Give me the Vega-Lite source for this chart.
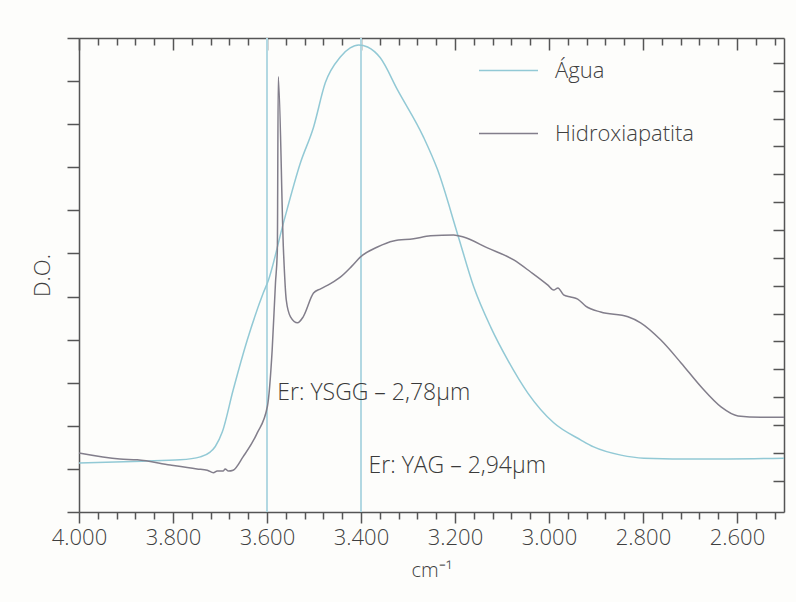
{
  "$schema": "https://vega.github.io/schema/vega-lite/v6.json",
  "width": 705,
  "height": 474,
  "autosize": {"type": "none"},
  "padding": {"left": 79, "top": 38, "right": 12, "bottom": 90},
  "background": "#fdfdfb",
  "config": {
    "view": {"stroke": null},
    "font": "Open Sans",
    "axis": {"domainColor": "#555555", "tickColor": "#555555", "labelColor": "#3f3f3f", "titleColor": "#3f3f3f", "labelFont": "Open Sans", "titleFont": "Open Sans", "titleFontWeight": 300, "labelFontWeight": 300, "grid": false, "domainWidth": 1.5, "tickWidth": 1.5},
    "legend": {"labelFont": "Open Sans", "labelFontWeight": 300}
  },
  "datasets": {
    "lasers": [{"wn": 3600}, {"wn": 3400}],
    "notes": [
      {"wn": 3578, "od": 2.76, "label": "Er: YSGG – 2,78μm"},
      {"wn": 3384, "od": 1.07, "label": "Er: YAG – 2,94μm"}
    ],
    "spectra": [
      {"s": "Água", "wn": 4000, "od": 1.14},
      {"s": "Água", "wn": 3866, "od": 1.18},
      {"s": "Água", "wn": 3785, "od": 1.21},
      {"s": "Água", "wn": 3742, "od": 1.28},
      {"s": "Água", "wn": 3721, "od": 1.39},
      {"s": "Água", "wn": 3710, "od": 1.52},
      {"s": "Água", "wn": 3695, "od": 1.86},
      {"s": "Água", "wn": 3672, "od": 2.83},
      {"s": "Água", "wn": 3642, "od": 3.99},
      {"s": "Água", "wn": 3608, "od": 5.08},
      {"s": "Água", "wn": 3597, "od": 5.38},
      {"s": "Água", "wn": 3565, "od": 6.71},
      {"s": "Água", "wn": 3529, "od": 8.10},
      {"s": "Água", "wn": 3501, "od": 8.93},
      {"s": "Água", "wn": 3476, "od": 9.96},
      {"s": "Água", "wn": 3444, "od": 10.56},
      {"s": "Água", "wn": 3423, "od": 10.77},
      {"s": "Água", "wn": 3405, "od": 10.84},
      {"s": "Água", "wn": 3386, "od": 10.79},
      {"s": "Água", "wn": 3359, "od": 10.54},
      {"s": "Água", "wn": 3322, "od": 9.79},
      {"s": "Água", "wn": 3267, "od": 8.70},
      {"s": "Água", "wn": 3237, "od": 7.94},
      {"s": "Água", "wn": 3194, "od": 6.43},
      {"s": "Água", "wn": 3160, "od": 5.22},
      {"s": "Água", "wn": 3124, "od": 4.29},
      {"s": "Água", "wn": 3088, "od": 3.53},
      {"s": "Água", "wn": 3045, "od": 2.76},
      {"s": "Água", "wn": 2990, "od": 2.07},
      {"s": "Água", "wn": 2932, "od": 1.67},
      {"s": "Água", "wn": 2905, "od": 1.51},
      {"s": "Água", "wn": 2847, "od": 1.32},
      {"s": "Água", "wn": 2798, "od": 1.25},
      {"s": "Água", "wn": 2677, "od": 1.23},
      {"s": "Água", "wn": 2500, "od": 1.25},
      {"s": "Hidroxiapatita", "wn": 4000, "od": 1.37},
      {"s": "Hidroxiapatita", "wn": 3913, "od": 1.23},
      {"s": "Hidroxiapatita", "wn": 3876, "od": 1.21},
      {"s": "Hidroxiapatita", "wn": 3806, "od": 1.09},
      {"s": "Hidroxiapatita", "wn": 3749, "od": 1.00},
      {"s": "Hidroxiapatita", "wn": 3727, "od": 0.97},
      {"s": "Hidroxiapatita", "wn": 3714, "od": 0.91},
      {"s": "Hidroxiapatita", "wn": 3706, "od": 0.95},
      {"s": "Hidroxiapatita", "wn": 3693, "od": 0.95},
      {"s": "Hidroxiapatita", "wn": 3689, "od": 1.00},
      {"s": "Hidroxiapatita", "wn": 3682, "od": 0.95},
      {"s": "Hidroxiapatita", "wn": 3672, "od": 0.97},
      {"s": "Hidroxiapatita", "wn": 3651, "od": 1.28},
      {"s": "Hidroxiapatita", "wn": 3621, "od": 1.83},
      {"s": "Hidroxiapatita", "wn": 3599, "od": 2.46},
      {"s": "Hidroxiapatita", "wn": 3589, "od": 3.76},
      {"s": "Hidroxiapatita", "wn": 3582, "od": 5.31},
      {"s": "Hidroxiapatita", "wn": 3578, "od": 6.08},
      {"s": "Hidroxiapatita", "wn": 3576, "od": 10.10},
      {"s": "Hidroxiapatita", "wn": 3565, "od": 6.08},
      {"s": "Hidroxiapatita", "wn": 3559, "od": 4.92},
      {"s": "Hidroxiapatita", "wn": 3550, "od": 4.53},
      {"s": "Hidroxiapatita", "wn": 3535, "od": 4.39},
      {"s": "Hidroxiapatita", "wn": 3523, "od": 4.53},
      {"s": "Hidroxiapatita", "wn": 3501, "od": 5.08},
      {"s": "Hidroxiapatita", "wn": 3486, "od": 5.18},
      {"s": "Hidroxiapatita", "wn": 3465, "od": 5.30},
      {"s": "Hidroxiapatita", "wn": 3444, "od": 5.45},
      {"s": "Hidroxiapatita", "wn": 3420, "od": 5.70},
      {"s": "Hidroxiapatita", "wn": 3401, "od": 5.92},
      {"s": "Hidroxiapatita", "wn": 3365, "od": 6.15},
      {"s": "Hidroxiapatita", "wn": 3331, "od": 6.29},
      {"s": "Hidroxiapatita", "wn": 3288, "od": 6.34},
      {"s": "Hidroxiapatita", "wn": 3252, "od": 6.41},
      {"s": "Hidroxiapatita", "wn": 3203, "od": 6.43},
      {"s": "Hidroxiapatita", "wn": 3182, "od": 6.38},
      {"s": "Hidroxiapatita", "wn": 3131, "od": 6.13},
      {"s": "Hidroxiapatita", "wn": 3075, "od": 5.85},
      {"s": "Hidroxiapatita", "wn": 3039, "od": 5.57},
      {"s": "Hidroxiapatita", "wn": 3003, "od": 5.27},
      {"s": "Hidroxiapatita", "wn": 2990, "od": 5.15},
      {"s": "Hidroxiapatita", "wn": 2981, "od": 5.20},
      {"s": "Hidroxiapatita", "wn": 2969, "od": 5.04},
      {"s": "Hidroxiapatita", "wn": 2954, "od": 4.99},
      {"s": "Hidroxiapatita", "wn": 2939, "od": 4.94},
      {"s": "Hidroxiapatita", "wn": 2922, "od": 4.78},
      {"s": "Hidroxiapatita", "wn": 2890, "od": 4.64},
      {"s": "Hidroxiapatita", "wn": 2832, "od": 4.53},
      {"s": "Hidroxiapatita", "wn": 2805, "od": 4.39},
      {"s": "Hidroxiapatita", "wn": 2762, "od": 3.99},
      {"s": "Hidroxiapatita", "wn": 2719, "od": 3.46},
      {"s": "Hidroxiapatita", "wn": 2676, "od": 2.90},
      {"s": "Hidroxiapatita", "wn": 2634, "od": 2.44},
      {"s": "Hidroxiapatita", "wn": 2598, "od": 2.23},
      {"s": "Hidroxiapatita", "wn": 2549, "od": 2.20},
      {"s": "Hidroxiapatita", "wn": 2500, "od": 2.20}
    ]
  },
  "resolve": {"axis": {"x": "independent", "y": "independent"}},
  "layer": [
    {
      "data": {"name": "lasers"},
      "mark": {"type": "rule", "color": "#b2d8e2", "strokeWidth": 2},
      "encoding": {
        "x": {
          "field": "wn", "type": "quantitative",
          "scale": {"domain": [4000, 2500], "nice": false, "zero": false},
          "axis": {
            "orient": "top", "title": null, "labels": false,
            "values": [4000,3960,3920,3880,3840,3800,3760,3720,3680,3640,3600,3560,3520,3480,3440,3400,3360,3320,3280,3240,3200,3160,3120,3080,3040,3000,2960,2920,2880,2840,2800,2760,2720,2680,2640,2600,2560,2520],
            "tickSize": {"condition": {"test": "datum.value % 200 === 0", "value": -12}, "value": -7}
          }
        }
      }
    },
    {
      "data": {"name": "spectra"},
      "mark": {"type": "line", "strokeWidth": 1.5, "interpolate": "monotone"},
      "encoding": {
        "x": {
          "field": "wn", "type": "quantitative",
          "scale": {"domain": [4000, 2500], "nice": false, "zero": false},
          "axis": {
            "orient": "bottom", "title": "cm⁻¹", "titleFontSize": 20, "titlePadding": 12,
            "labelFontSize": 22, "labelPadding": 4, "labelOverlap": false, "labelFlush": false, "labelBound": false,
            "values": [4000,3960,3920,3880,3840,3800,3760,3720,3680,3640,3600,3560,3520,3480,3440,3400,3360,3320,3280,3240,3200,3160,3120,3080,3040,3000,2960,2920,2880,2840,2800,2760,2720,2680,2640,2600,2560,2520],
            "labelExpr": "datum.value % 200 === 0 ? replace(format(datum.value, ','), ',', '.') : ''",
            "tickSize": {"condition": {"test": "datum.value % 200 === 0", "value": 11}, "value": 7}
          }
        },
        "y": {
          "field": "od", "type": "quantitative",
          "scale": {"domain": [0, 11], "nice": false, "zero": false},
          "axis": {
            "orient": "left", "title": "D.O.", "titleFontSize": 22, "titlePadding": 12,
            "labels": false, "tickSize": 12,
            "values": [0,1,2,3,4,5,6,7,8,9,10,11]
          }
        },
        "color": {
          "field": "s", "type": "nominal",
          "scale": {"domain": ["Água", "Hidroxiapatita"], "range": ["#92c9d5", "#827e8b"]},
          "legend": {
            "orient": "none", "legendX": 399, "legendY": 2, "title": null,
            "symbolType": "stroke", "symbolSize": 3481, "symbolStrokeWidth": 1.5,
            "labelFontSize": 22, "labelColor": "#3f3f3f", "labelOffset": 16, "rowPadding": 21, "padding": 0
          }
        }
      }
    },
    {
      "data": {"name": "notes"},
      "mark": {"type": "text", "align": "left", "baseline": "middle", "fontSize": 23, "fontWeight": 300, "color": "#3a3a3a", "font": "Open Sans"},
      "encoding": {
        "x": {"field": "wn", "type": "quantitative", "scale": {"domain": [4000, 2500], "nice": false, "zero": false}, "axis": null},
        "y": {
          "field": "od", "type": "quantitative",
          "scale": {"domain": [0, 11], "nice": false, "zero": false},
          "axis": {
            "orient": "right", "title": null, "labels": false, "tickSize": -11,
            "values": [0.72,1.37,2.02,2.66,3.31,3.96,4.60,5.25,5.90,6.55,7.19,7.84,8.49,9.13,9.78,10.43]
          }
        },
        "text": {"field": "label", "type": "nominal"}
      }
    }
  ]
}
